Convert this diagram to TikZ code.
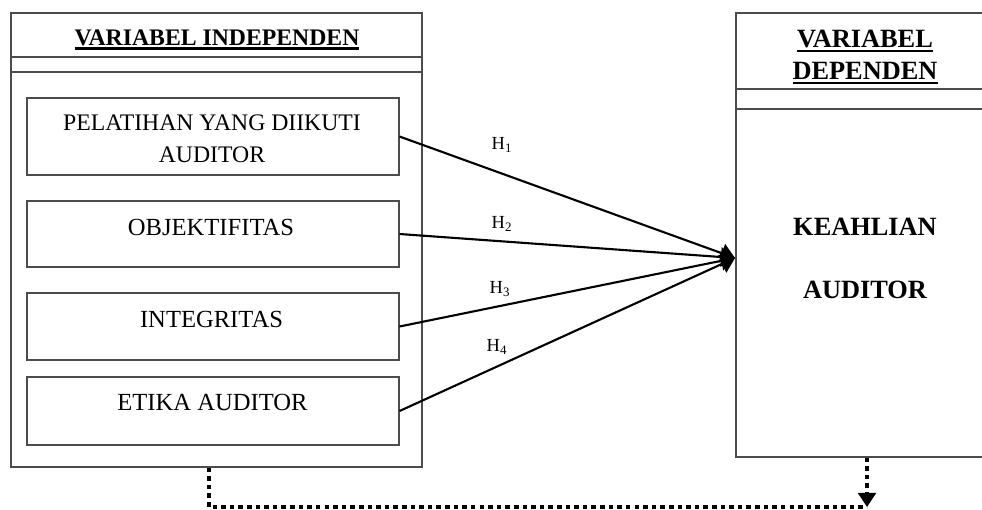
\documentclass[tikz,border=0pt]{standalone}
\usepackage{fontspec}
\setmainfont{Liberation Serif}
\usetikzlibrary{arrows.meta}
\newcommand{\garisbawah}[1]{\setbox0\hbox{#1}\leavevmode\rlap{\rule[-2.6pt]{\wd0}{1.3pt}}\box0}

\begin{document}
\begin{tikzpicture}[line join=miter,
		kotak/.style={draw=black!70,line width=0.6pt,rectangle,inner sep=0pt},
		teks/.style={font=\fontsize{14}{19}\selectfont,align=center},
		judul/.style={font=\fontsize{13.5}{16}\selectfont\bfseries,align=center},
		judulkanan/.style={font=\fontsize{15}{18}\selectfont\bfseries,align=center},
		hipotesis/.style={font=\fontsize{10.5}{12}\selectfont},
		panah/.style={line width=1.2pt,-{Triangle[length=8pt,width=11pt]}},
		titik/.style={line width=2.2pt,dash pattern=on 2.6pt off 2.3pt}]
		\useasboundingbox (0,0) rectangle (19.64,-10.18);
		\clip (0,0) rectangle (19.64,-10.18);
		\node[kotak,minimum width=8.22cm,minimum height=9.08cm] (indep) at (4.33,-4.80) {};
		\draw[draw=black!70,line width=0.6pt] (0.22,-1.14) -- (8.44,-1.14);
		\draw[draw=black!70,line width=0.6pt] (0.22,-1.44) -- (8.44,-1.44);
		\node[judul] (judulindep) at (4.34,-0.79) {\garisbawah{VARIABEL INDEPENDEN}};
		\node[kotak,minimum width=7.44cm,minimum height=1.54cm] (pelatihan) at (4.26,-2.73) {};
		\node[kotak,minimum width=7.44cm,minimum height=1.32cm] (objektif) at (4.26,-4.68) {};
		\node[kotak,minimum width=7.44cm,minimum height=1.34cm] (integ) at (4.26,-6.53) {};
		\node[kotak,minimum width=7.44cm,minimum height=1.36cm] (etika) at (4.26,-8.22) {};
		\node[teks,font=\fontsize{13.5}{18}\selectfont] (tpelatihan) at (4.24,-2.78) {PELATIHAN YANG DIIKUTI\\AUDITOR};
		\node[teks] (tobjektif) at (4.22,-4.54) {OBJEKTIFITAS};
		\node[teks] (tinteg) at (4.23,-6.38) {INTEGRITAS};
		\node[teks] (tetika) at (4.25,-8.04) {ETIKA AUDITOR};
		\node[kotak,minimum width=5.28cm,minimum height=8.88cm] (dep) at (17.36,-4.70) {};
		\draw[draw=black!70,line width=0.6pt] (14.72,-1.78) -- (20,-1.78);
		\draw[draw=black!70,line width=0.6pt] (14.72,-2.18) -- (20,-2.18);
		\node[judulkanan] (juduldep) at (17.3,-1.14) {\garisbawah{VARIABEL}\\\garisbawah{DEPENDEN}};
		\node[judulkanan] (keahlian) at (17.3,-4.54) {KEAHLIAN};
		\node[judulkanan] (auditor) at (17.3,-5.80) {AUDITOR};
		\coordinate (ujung) at (14.70,-5.16);
		\draw[panah] (pelatihan.east) -- (ujung);
		\draw[panah] (objektif.east) -- (ujung);
		\draw[panah] (integ.east) -- (ujung);
		\draw[panah] (etika.east) -- (ujung);
		\node[hipotesis] (h1) at (10.04,-2.90) {H\textsubscript{1}};
		\node[hipotesis] (h2) at (10.04,-4.48) {H\textsubscript{2}};
		\node[hipotesis] (h3) at (10.00,-5.78) {H\textsubscript{3}};
		\node[hipotesis] (h4) at (9.94,-6.94) {H\textsubscript{4}};
		\coordinate (belok1) at (4.18,-10.14);
		\coordinate (belok2) at (17.34,-10.14);
		\draw[titik] (indep.south -| belok1) -- (belok1) -- (belok2);
		\draw[titik,-{Triangle[length=8pt,width=10pt]}] (dep.south -| belok2) -- (belok2);
\end{tikzpicture}
\end{document}
